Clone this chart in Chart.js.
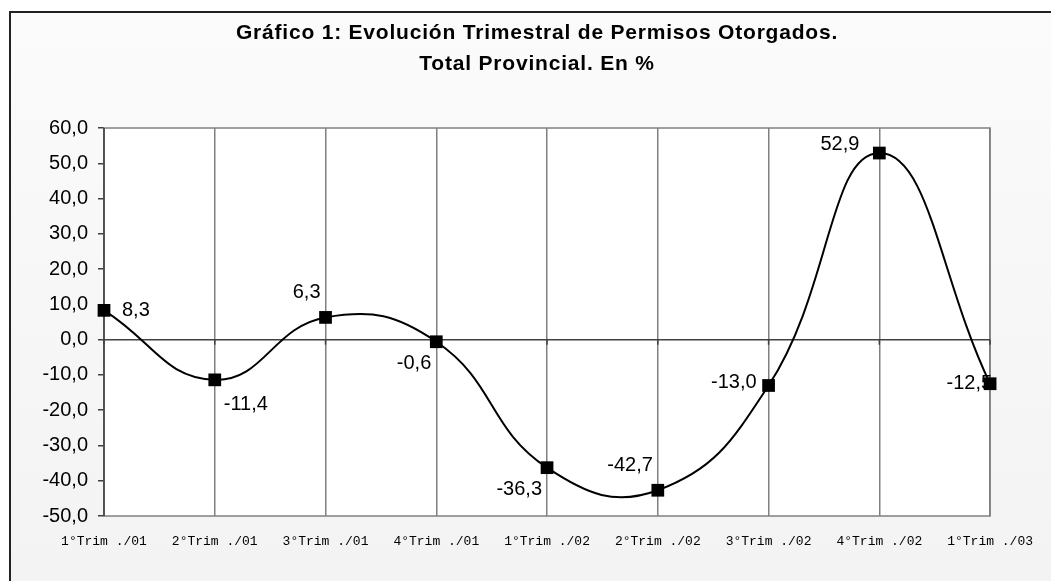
<!DOCTYPE html>
<html>
<head>
<meta charset="utf-8">
<script src="https://cdn.jsdelivr.net/npm/chart.js@4.4.1/dist/chart.umd.min.js"></script>
<style>
  html, body { margin: 0; padding: 0; background: #ffffff; }
  #wrap { width: 1051px; height: 581px; position: relative; }
</style>
</head>
<body>
<div id="wrap"><canvas id="c" width="1051" height="581"></canvas></div>
<script>
// ---- data ----
const categories = ['1°Trim ./01', '2°Trim ./01', '3°Trim ./01', '4°Trim ./01', '1°Trim ./02', '2°Trim ./02', '3°Trim ./02', '4°Trim ./02', '1°Trim ./03'];
const values = [8.3, -11.4, 6.3, -0.6, -36.3, -42.7, -13.0, 52.9, -12.5];
const titleLines = ['Gráfico 1: Evolución Trimestral de Permisos Otorgados.', 'Total Provincial. En %'];
const yMin = -50, yMax = 60, yStep = 10;
// label placement (style)
const labelPlacement = ['right', 'belowRight', 'aboveLeft', 'belowLeft', 'belowLeft', 'aboveLeft', 'left', 'aboveLeft2', 'leftOver'];

const fmt = v => v.toFixed(1).replace('.', ',');

const placements = {
  right:      { align: 'left',  dx: 18,  dy: 0 },
  belowRight: { align: 'left',  dx: 9,   dy: 25 },
  aboveLeft:  { align: 'right', dx: -5,  dy: -25 },
  belowLeft:  { align: 'right', dx: -5,  dy: 22 },
  left:       { align: 'right', dx: -12, dy: -3 },
  aboveLeft2: { align: 'right', dx: -20, dy: -9 },
  leftOver:   { align: 'right', dx: 2,   dy: 0 }
};

const framePlugin = {
  id: 'frame',
  beforeDraw(chart) {
    const ctx = chart.ctx;
    const ca = chart.chartArea;
    ctx.save();
    ctx.fillStyle = '#ffffff';
    ctx.fillRect(0, 0, chart.width, chart.height);
    const g = ctx.createLinearGradient(0, 11, 0, chart.height);
    g.addColorStop(0, '#fbfbfb');
    g.addColorStop(1, '#f3f3f3');
    ctx.fillStyle = g;
    ctx.fillRect(10, 11, chart.width - 10, chart.height - 11);
    ctx.strokeStyle = '#222222';
    ctx.lineWidth = 2;
    ctx.beginPath();
    ctx.moveTo(10, chart.height);
    ctx.lineTo(10, 12);
    ctx.lineTo(chart.width, 12);
    ctx.stroke();
    ctx.fillStyle = '#ffffff';
    ctx.fillRect(ca.left, ca.top, ca.right - ca.left, ca.bottom - ca.top);
    // title
    ctx.fillStyle = '#000000';
    ctx.font = 'bold 21px "Liberation Sans", Arial, sans-serif';
    ctx.textAlign = 'center';
    ctx.textBaseline = 'middle';
    try { ctx.letterSpacing = '0.8px'; } catch (e) {}
    ctx.fillText(titleLines[0], 537, 33);
    ctx.fillText(titleLines[1], 537, 64);
    try { ctx.letterSpacing = '0px'; } catch (e) {}
    ctx.restore();
  },
  beforeDatasetsDraw(chart) {
    const ctx = chart.ctx;
    const ca = chart.chartArea;
    const y0 = chart.scales.y.getPixelForValue(0);
    ctx.save();
    // plot border
    ctx.strokeStyle = '#808080';
    ctx.lineWidth = 1.5;
    ctx.strokeRect(ca.left, ca.top, ca.right - ca.left, ca.bottom - ca.top);
    // zero line
    ctx.strokeStyle = '#404040';
    ctx.lineWidth = 1.5;
    ctx.beginPath();
    ctx.moveTo(ca.left, y0);
    ctx.lineTo(ca.right, y0);
    ctx.stroke();
    // small ticks on zero line
    const xs = chart.scales.x;
    ctx.beginPath();
    for (let i = 0; i < categories.length; i++) {
      const x = xs.getPixelForValue(i);
      ctx.moveTo(x, y0);
      ctx.lineTo(x, y0 + 5);
    }
    ctx.stroke();
    // left axis line
    ctx.strokeStyle = '#404040';
    ctx.beginPath();
    ctx.moveTo(ca.left, ca.top);
    ctx.lineTo(ca.left, ca.bottom);
    ctx.stroke();
    // data labels
    const meta = chart.getDatasetMeta(0);
    ctx.fillStyle = '#000000';
    ctx.font = '20px "Liberation Sans", Arial, sans-serif';
    ctx.textBaseline = 'middle';
    meta.data.forEach((pt, i) => {
      const p = placements[labelPlacement[i]];
      ctx.textAlign = p.align;
      ctx.fillText(fmt(values[i]), pt.x + p.dx, pt.y + p.dy);
    });
    ctx.restore();
  }
};

new Chart(document.getElementById('c'), {
  type: 'line',
  data: {
    labels: categories,
    datasets: [{
      data: values,
      borderColor: '#000000',
      borderWidth: 2,
      tension: 0.45,
      pointStyle: 'rect',
      pointRadius: 9,
      pointHoverRadius: 9,
      pointBackgroundColor: '#000000',
      pointBorderColor: '#000000',
      pointBorderWidth: 0,
      fill: false,
      clip: false
    }]
  },
  options: {
    responsive: false,
    animation: false,
    events: [],
    layout: { padding: { left: 0, right: 57, top: 128, bottom: 0 } },
    plugins: { legend: { display: false }, title: { display: false }, tooltip: { enabled: false } },
    scales: {
      x: {
        type: 'category',
        offset: false,
        afterFit(s) { s.height = 65; },
        grid: { color: '#808080', lineWidth: 1.5, drawTicks: false, drawOnChartArea: true },
        border: { display: false },
        ticks: {
          color: '#000000',
          font: { family: '"Liberation Mono", "Courier New", monospace', size: 13 },
          padding: 18,
          maxRotation: 0,
          autoSkip: false
        }
      },
      y: {
        min: yMin,
        max: yMax,
        afterFit(s) { s.width = 104; },
        grid: {
          color: ctx => 'rgba(0,0,0,0)',
          tickColor: '#404040',
          tickLength: 6,
          lineWidth: 1.5,
          drawOnChartArea: true
        },
        border: { display: false },
        ticks: {
          stepSize: yStep,
          color: '#000000',
          font: { family: '"Liberation Sans", Arial, sans-serif', size: 20 },
          padding: 10,
          callback: v => fmt(v)
        }
      }
    }
  },
  plugins: [framePlugin]
});
</script>
</body>
</html>
